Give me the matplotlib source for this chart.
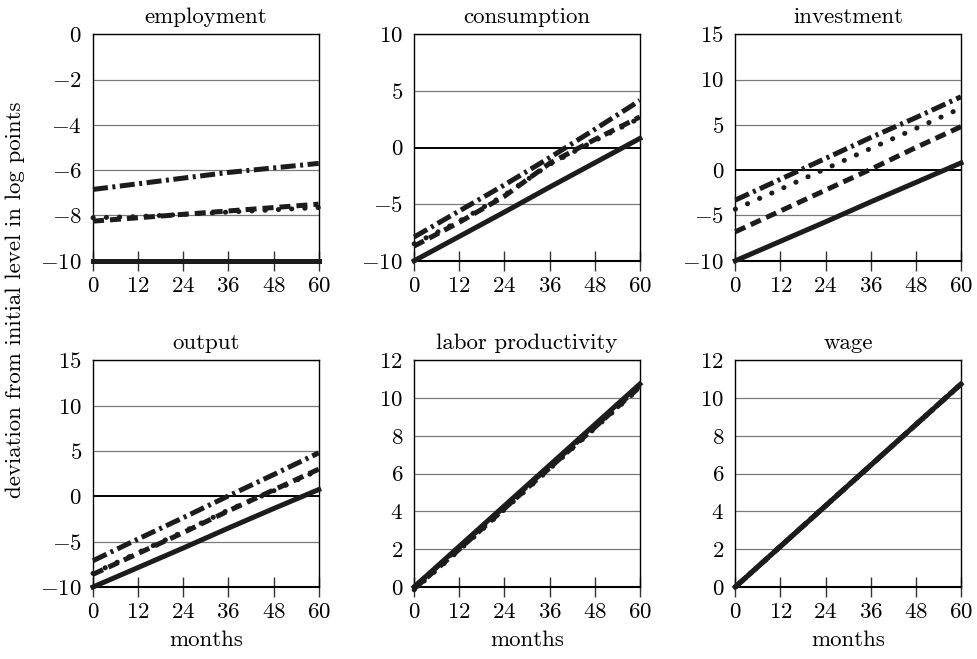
import numpy as np
import matplotlib
matplotlib.use('Agg')
import matplotlib.pyplot as plt

plt.rcParams['font.family'] = 'serif'
plt.rcParams['font.serif'] = ['cmr10']
plt.rcParams['mathtext.fontset'] = 'cm'
plt.rcParams['axes.formatter.use_mathtext'] = True

months = [0, 12, 24, 36, 48, 60]

titles = ['employment', 'consumption', 'investment',
          'output', 'labor productivity', 'wage']

# solid, dashed, dotted, dash-dot
employment_solid = [-10, -10, -10, -10, -10, -10]
employment_dashed = [-8.25, -8.1, -7.95, -7.8, -7.65, -7.5]
employment_dotted = [-8.1, -8.05, -7.95, -7.85, -7.75, -7.65]
employment_dashdot = [-6.85, -6.6, -6.35, -6.1, -5.9, -5.7]

consumption_solid = [-10, -7.85, -5.7, -3.5, -1.35, 0.8]
consumption_dashed = [-8.7, -6.6, -4.3, -1.4, 0.7, 2.7]
consumption_dotted = [-8.5, -6.5, -4.2, -1.5, 0.6, 2.6]
consumption_dashdot = [-7.9, -5.6, -3.3, -0.9, 1.6, 4.15]

investment_solid = [-10, -7.85, -5.7, -3.5, -1.35, 0.8]
investment_dashed = [-6.8, -4.5, -2.2, 0.1, 2.5, 4.8]
investment_dotted = [-4.3, -2.1, 0.15, 2.4, 4.6, 6.85]
investment_dashdot = [-3.3, -1.0, 1.3, 3.6, 5.8, 8.1]

output_solid = [-10, -7.85, -5.7, -3.5, -1.35, 0.75]
output_dashed = [-8.6, -6.3, -4.0, -1.6, 0.7, 3.0]
output_dotted = [-8.5, -6.2, -3.9, -1.5, 0.6, 2.9]
output_dashdot = [-7.1, -4.7, -2.35, 0.05, 2.4, 4.8]

productivity_solid = [0, 2.15, 4.3, 6.45, 8.6, 10.75]
productivity_dashed = [-0.1, 2.0, 4.15, 6.3, 8.45, 10.6]
productivity_dotted = [-0.15, 1.95, 4.1, 6.25, 8.4, 10.55]
productivity_dashdot = [0, 2.1, 4.25, 6.4, 8.5, 10.65]

wage_solid = [0, 2.15, 4.3, 6.45, 8.6, 10.75]
wage_dashed = [0, 2.15, 4.3, 6.45, 8.6, 10.75]
wage_dotted = [0, 2.15, 4.3, 6.45, 8.6, 10.75]
wage_dashdot = [0, 2.15, 4.3, 6.45, 8.6, 10.75]

panels = [
    (employment_solid, employment_dashed, employment_dotted, employment_dashdot),
    (consumption_solid, consumption_dashed, consumption_dotted, consumption_dashdot),
    (investment_solid, investment_dashed, investment_dotted, investment_dashdot),
    (output_solid, output_dashed, output_dotted, output_dashdot),
    (productivity_solid, productivity_dashed, productivity_dotted, productivity_dashdot),
    (wage_solid, wage_dashed, wage_dotted, wage_dashdot),
]

ylims = [(-10, 0), (-10, 10), (-10, 15), (-10, 15), (0, 12), (0, 12)]
ysteps = [2, 5, 5, 5, 2, 2]

styles = [
    dict(linestyle='-'),
    dict(linestyle=(0, (2.2, 1.2))),
    dict(linestyle=(0, (0.05, 2.6)), dash_capstyle='round'),
    dict(linestyle=(0, (3.0, 0.9, 0.6, 0.9))),
]

fig, axes = plt.subplots(2, 3, figsize=(9.77, 6.59), dpi=100)
fig.subplots_adjust(left=0.0952, right=0.9836, top=0.948, bottom=0.1093,
                    wspace=0.423, hspace=0.44)

line_color = '#1c1c1c'

for i, ax in enumerate(axes.flat):
    lo, hi = ylims[i]
    yt = np.arange(lo, hi + 0.01, ysteps[i])
    ax.set_xlim(0, 60)
    ax.set_ylim(lo, hi)
    ax.set_yticks(yt)
    ax.set_xticks(months)
    for y in yt:
        if y == 0:
            ax.axhline(y, color='black', lw=1.4, zorder=1)
        else:
            ax.axhline(y, color='#7a7a7a', lw=0.9, zorder=1)
    series = panels[i]
    # draw dotted, dashed, dash-dot, then solid on top
    for k in [2, 1, 3, 0]:
        ax.plot(months, series[k], color=line_color, lw=3.6, clip_on=False,
                zorder=3, **styles[k])
    ax.tick_params(axis='y', length=0, labelsize=16.5, pad=8)
    ax.tick_params(axis='x', direction='inout', length=14, width=1.0,
                   color='#333333', labelsize=16.5, pad=4)
    for s in ax.spines.values():
        s.set_linewidth(1.0)
        s.set_color('black')
    ax.spines['bottom'].set_linewidth(1.5)
    ax.set_title(titles[i], fontsize=16.5, pad=8)
    if i >= 3:
        ax.set_xlabel('months', fontsize=16.5, labelpad=6)

fig.text(0.016, 0.545, 'deviation from initial level in log points',
         rotation=90, va='center', ha='center', fontsize=16.5)

fig.savefig('out.png', dpi=100)
